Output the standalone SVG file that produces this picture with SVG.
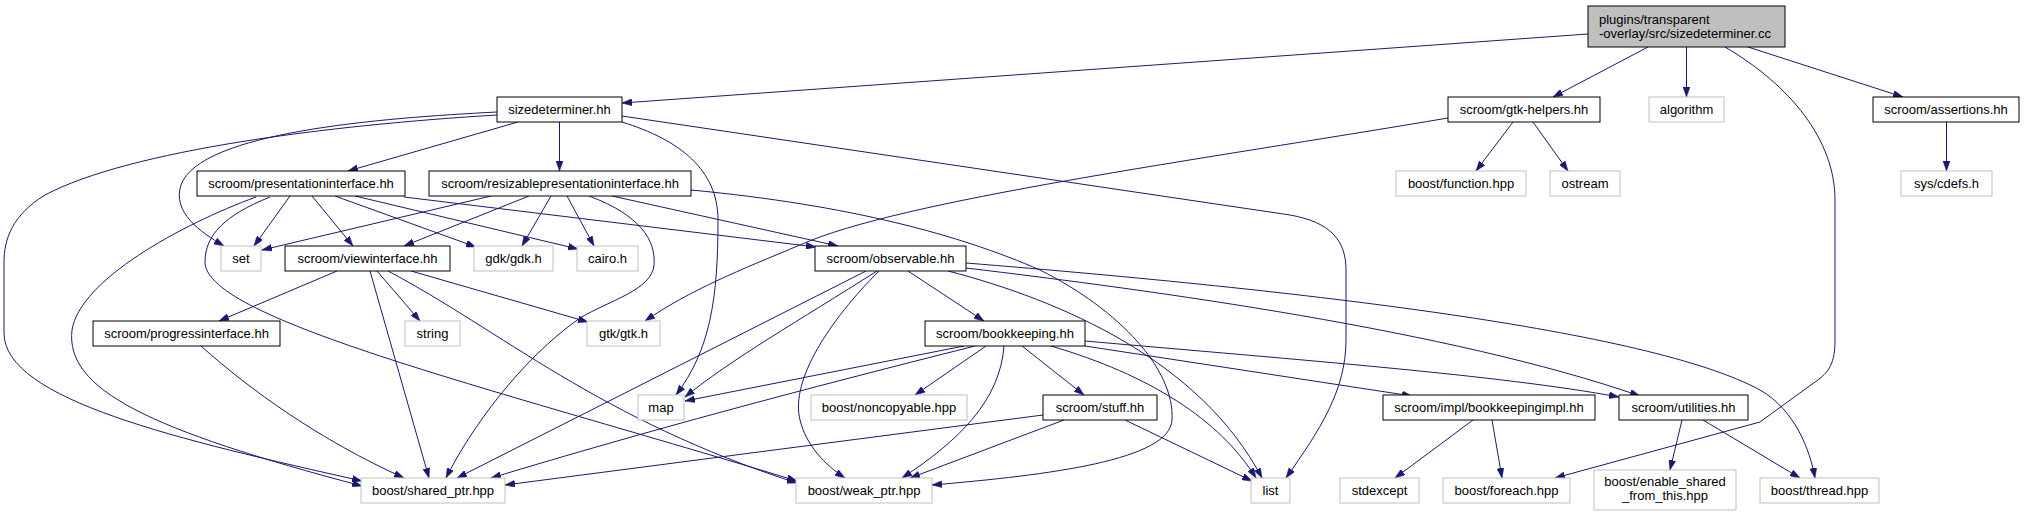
<svg xmlns="http://www.w3.org/2000/svg" width="2025" height="517" viewBox="0 0 2025 517">
<style>
  .doc rect { fill: #ffffff; stroke: #000000; stroke-width: 1; }
  .ext rect { fill: #ffffff; stroke: #bfbfbf; stroke-width: 1; }
  .main rect { fill: #bfbfbf; stroke: #000000; stroke-width: 1; }
  text { font-family: "Liberation Sans", Arial, sans-serif; font-size: 13px; fill: #000000; }
  .c { text-anchor: middle; }
  #edges path { fill: none; stroke: #191970; stroke-width: 1; marker-end: url(#arr); }
</style>
<defs>
  <marker id="arr" markerUnits="userSpaceOnUse" viewBox="0 0 10 7" markerWidth="10" markerHeight="7" refX="10" refY="3.5" orient="auto">
    <path d="M0,0 L10,3.5 L0,7 z" fill="#191970" stroke="#191970" stroke-width="0.5"/>
  </marker>
</defs>
<rect x="0" y="0" width="2025" height="517" fill="#ffffff"/>

<g id="edges">
  <path d="M1588,34 L622,103"/>
  <path d="M1648,47 L1553,97"/>
  <path d="M1686.5,47 L1686.5,97"/>
  <path d="M1725,47 C1790,85 1835,140 1835,200 L1835,340 C1835,362 1830,372 1815,382 L1760,422 L1555,478"/>
  <path d="M1748,47 L1903,97"/>
  <path d="M518,122 L348,171"/>
  <path d="M559.5,122 L559.5,171"/>
  <path d="M497,112 C380,118 200,132 181,185 C172,212 200,232 224,246"/>
  <path d="M497,115 C330,125 130,150 45,195 C12,215 4,240 4,262 L4,333 C4,400 180,440 362,481"/>
  <path d="M622,122 C680,140 718,170 718,220 C718,300 710,350 676,395"/>
  <path d="M622,116 L1290,215 C1330,222 1346,240 1346,270 L1346,340 C1346,390 1320,430 1286,478"/>
  <path d="M1448,118 C1200,160 900,200 800,245 C740,270 690,290 645,321"/>
  <path d="M1513,122 L1476,171"/>
  <path d="M1533,122 L1568,171"/>
  <path d="M1946.5,122 L1946.5,171"/>
  <path d="M290,196 L254,246"/>
  <path d="M312,196 L353,246"/>
  <path d="M335,196 L476,247"/>
  <path d="M355,196 L578,249"/>
  <path d="M404,197 L816,247"/>
  <path d="M256,197 C180,225 80,280 72,330 C65,390 150,430 362,486"/>
  <path d="M270,197 C225,215 205,235 205,262 C205,320 500,390 797,481"/>
  <path d="M491,196 L262,250"/>
  <path d="M529,196 L404,246"/>
  <path d="M551,196 L522,246"/>
  <path d="M567,196 L594,246"/>
  <path d="M612,196 L838,246"/>
  <path d="M589,196 C640,215 656,240 654,265 C652,290 610,300 580,318 C520,360 470,430 446,478"/>
  <path d="M691,190 C850,205 960,235 1040,270 C1120,310 1175,370 1172,420 C1170,460 1050,475 932,485"/>
  <path d="M337,271 L219,321"/>
  <path d="M370,271 L429,478"/>
  <path d="M377,271 L420,321"/>
  <path d="M411,271 L588,322"/>
  <path d="M201,346 C250,390 320,440 404,478"/>
  <path d="M388,271 C500,330 600,420 797,483"/>
  <path d="M866,271 L457,478"/>
  <path d="M877,271 C800,320 730,360 685,397"/>
  <path d="M879,271 C830,320 790,380 800,420 C806,445 825,465 845,478"/>
  <path d="M908,271 L984,321"/>
  <path d="M948,271 C1060,300 1200,360 1262,478"/>
  <path d="M966,268 C1150,290 1450,330 1640,396"/>
  <path d="M966,263 C1300,290 1650,330 1760,390 C1795,410 1810,450 1815,478"/>
  <path d="M964,346 L685,401"/>
  <path d="M975,346 C800,390 650,430 491,478"/>
  <path d="M986,346 L915,395"/>
  <path d="M1004,346 C1000,400 960,440 902,478"/>
  <path d="M1022,346 L1084,395"/>
  <path d="M1051,346 C1150,375 1220,420 1256,478"/>
  <path d="M1085,341 C1300,360 1500,375 1619,397"/>
  <path d="M1085,346 L1412,396"/>
  <path d="M1043,415 L505,485"/>
  <path d="M1064,420 L910,478"/>
  <path d="M1125,420 L1252,481"/>
  <path d="M1473,420 L1395,478"/>
  <path d="M1492,420 L1502,478"/>
  <path d="M1682,420 L1670,470"/>
  <path d="M1703,420 L1800,478"/>
</g>

<g id="node-main" class="main"><rect x="1588" y="6" width="197" height="41"/><text x="1599" y="23.5">plugins/transparent</text><text x="1599" y="37.5">-overlay/src/sizedeterminer.cc</text></g>
<g id="node-sizedeterminer" class="doc"><rect x="497" y="97" width="125" height="25"/><text class="c" x="559.5" y="114">sizedeterminer.hh</text></g>
<g id="node-gtk-helpers" class="doc"><rect x="1448" y="97" width="152" height="25"/><text class="c" x="1524" y="114">scroom/gtk-helpers.hh</text></g>
<g id="node-algorithm" class="ext"><rect x="1649" y="97" width="75" height="25"/><text class="c" x="1686.5" y="114">algorithm</text></g>
<g id="node-assertions" class="doc"><rect x="1873" y="97" width="146" height="25"/><text class="c" x="1946" y="114">scroom/assertions.hh</text></g>
<g id="node-presentationinterface" class="doc"><rect x="197" y="171" width="208" height="25"/><text class="c" x="301" y="188">scroom/presentationinterface.hh</text></g>
<g id="node-resizable" class="doc"><rect x="429" y="171" width="262" height="25"/><text class="c" x="560" y="188">scroom/resizablepresentationinterface.hh</text></g>
<g id="node-function" class="ext"><rect x="1396" y="171" width="130" height="25"/><text class="c" x="1461" y="188">boost/function.hpp</text></g>
<g id="node-ostream" class="ext"><rect x="1550" y="171" width="70" height="25"/><text class="c" x="1585" y="188">ostream</text></g>
<g id="node-cdefs" class="ext"><rect x="1901" y="171" width="91" height="25"/><text class="c" x="1946.5" y="188">sys/cdefs.h</text></g>
<g id="node-set" class="ext"><rect x="221" y="246" width="40" height="25"/><text class="c" x="241" y="263">set</text></g>
<g id="node-viewinterface" class="doc"><rect x="285" y="246" width="165" height="25"/><text class="c" x="367.5" y="263">scroom/viewinterface.hh</text></g>
<g id="node-gdk" class="ext"><rect x="474" y="246" width="79" height="25"/><text class="c" x="513.5" y="263">gdk/gdk.h</text></g>
<g id="node-cairo" class="ext"><rect x="577" y="246" width="61" height="25"/><text class="c" x="607.5" y="263">cairo.h</text></g>
<g id="node-observable" class="doc"><rect x="815" y="246" width="151" height="25"/><text class="c" x="890.5" y="263">scroom/observable.hh</text></g>
<g id="node-progressinterface" class="doc"><rect x="93" y="321" width="187" height="25"/><text class="c" x="186.5" y="338">scroom/progressinterface.hh</text></g>
<g id="node-string" class="ext"><rect x="405" y="321" width="55" height="25"/><text class="c" x="432.5" y="338">string</text></g>
<g id="node-gtk" class="ext"><rect x="587" y="321" width="73" height="25"/><text class="c" x="623.5" y="338">gtk/gtk.h</text></g>
<g id="node-bookkeeping" class="doc"><rect x="925" y="321" width="160" height="25"/><text class="c" x="1005" y="338">scroom/bookkeeping.hh</text></g>
<g id="node-map" class="ext"><rect x="638" y="395" width="46" height="25"/><text class="c" x="661" y="412">map</text></g>
<g id="node-noncopyable" class="ext"><rect x="811" y="395" width="156" height="25"/><text class="c" x="889" y="412">boost/noncopyable.hpp</text></g>
<g id="node-stuff" class="doc"><rect x="1043" y="395" width="114" height="25"/><text class="c" x="1100" y="412">scroom/stuff.hh</text></g>
<g id="node-bookkeepingimpl" class="doc"><rect x="1383" y="395" width="212" height="25"/><text class="c" x="1489" y="412">scroom/impl/bookkeepingimpl.hh</text></g>
<g id="node-utilities" class="doc"><rect x="1619" y="395" width="129" height="25"/><text class="c" x="1683.5" y="412">scroom/utilities.hh</text></g>
<g id="node-shared_ptr" class="ext"><rect x="361" y="478" width="144" height="25"/><text class="c" x="433" y="495">boost/shared_ptr.hpp</text></g>
<g id="node-weak_ptr" class="ext"><rect x="796" y="478" width="136" height="25"/><text class="c" x="864" y="495">boost/weak_ptr.hpp</text></g>
<g id="node-list" class="ext"><rect x="1251" y="478" width="39" height="25"/><text class="c" x="1270.5" y="495">list</text></g>
<g id="node-stdexcept" class="ext"><rect x="1340" y="478" width="79" height="25"/><text class="c" x="1379.5" y="495">stdexcept</text></g>
<g id="node-foreach" class="ext"><rect x="1443" y="478" width="127" height="25"/><text class="c" x="1506.5" y="495">boost/foreach.hpp</text></g>
<g id="node-enable_shared" class="ext"><rect x="1594" y="470" width="142" height="40"/><text class="c" x="1665" y="486">boost/enable_shared</text><text class="c" x="1665" y="500">_from_this.hpp</text></g>
<g id="node-thread" class="ext"><rect x="1760" y="478" width="119" height="25"/><text class="c" x="1819.5" y="495">boost/thread.hpp</text></g>
</svg>
